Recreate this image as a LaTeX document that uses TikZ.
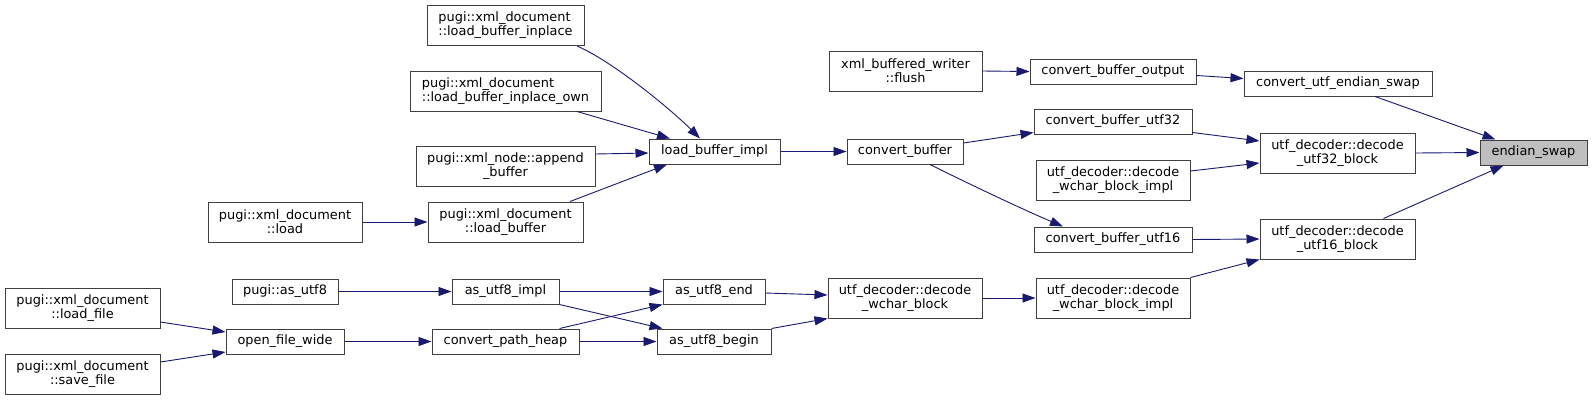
\documentclass[tikz,border=0pt]{standalone}
\usepackage{fontspec}
\setmainfont{DejaVu Sans}
\usetikzlibrary{arrows.meta,calc}
\definecolor{edgeblue}{HTML}{191970}
\definecolor{boxline}{HTML}{404040}
\definecolor{hlfill}{HTML}{BFBFBF}
\begin{document}
\begin{tikzpicture}[x=1pt,y=-1pt,
  box/.style={draw=boxline, fill=white, line width=1pt, inner sep=0pt, minimum height=25pt, align=center, font=\fontsize{12.9}{14}\selectfont},
  tall/.style={minimum height=40pt},
  call/.style={draw=edgeblue, line width=0.9pt, -{Triangle[length=13pt,width=9pt,fill=edgeblue]}}]
\useasboundingbox[fill=white] (0,0) rectangle (1592,400);
% nodes
\node[box,tall,minimum width=157,align=left] (inplace) at (505.5,25.5) {pugi::xml\_document\\::load\_buffer\_inplace};
\node[box,tall,minimum width=191,align=left] (inplaceown) at (505.5,91) {pugi::xml\_document\\::load\_buffer\_inplace\_own};
\node[box,tall,minimum width=179] (append) at (505.5,166) {pugi::xml\_node::append\\\_buffer};
\node[box,tall,minimum width=154] (load) at (285,222) {pugi::xml\_document\\::load};
\node[box,tall,minimum width=155] (loadbuf) at (505.5,222) {pugi::xml\_document\\::load\_buffer};
\node[box,minimum width=131] (lbimpl) at (714.5,151.5) {load\_buffer\_impl};
\node[box,minimum width=116] (cbuf) at (905,151.5) {convert\_buffer};
\node[box,tall,minimum width=153] (flush) at (905.5,71) {xml\_buffered\_writer\\::flush};
\node[box,minimum width=166] (cbo) at (1113,71.5) {convert\_buffer\_output};
\node[box,minimum width=158] (cb32) at (1113,121.5) {convert\_buffer\_utf32};
\node[box,tall,minimum width=154] (wbiu) at (1113,180) {utf\_decoder::decode\\\_wchar\_block\_impl};
\node[box,minimum width=158] (cb16) at (1113,239.5) {convert\_buffer\_utf16};
\node[box,tall,minimum width=154] (wbil) at (1113,298) {utf\_decoder::decode\\\_wchar\_block\_impl};
\node[box,minimum width=188] (cues) at (1338,83.5) {convert\_utf\_endian\_swap};
\node[box,tall,minimum width=155] (d32) at (1337.5,153) {utf\_decoder::decode\\\_utf32\_block};
\node[box,tall,minimum width=155] (d16) at (1337.5,239) {utf\_decoder::decode\\\_utf16\_block};
\node[box,fill=hlfill,minimum width=107] (es) at (1533.5,152.5) {endian\_swap};
\node[box,tall,minimum width=154] (wb) at (905,298) {utf\_decoder::decode\\\_wchar\_block};
\node[box,minimum width=102] (u8end) at (714,291.5) {as\_utf8\_end};
\node[box,minimum width=114] (u8begin) at (714,341.5) {as\_utf8\_begin};
\node[box,minimum width=107] (u8impl) at (505.5,291.5) {as\_utf8\_impl};
\node[box,minimum width=106] (asutf) at (285,291.5) {pugi::as\_utf8};
\node[box,minimum width=147] (cph) at (505.5,341.5) {convert\_path\_heap};
\node[box,minimum width=118] (ofw) at (285,341.5) {open\_file\_wide};
\node[box,tall,minimum width=155] (lfile) at (82.5,308.5) {pugi::xml\_document\\::load\_file};
\node[box,tall,minimum width=155] (sfile) at (82.5,374) {pugi::xml\_document\\::save\_file};
% connectors
\draw[call] ($(cues.south)+(37,0)$) -- ($(es.north)+(-38,0)$);
\draw[call] (d32.east) -- (es.west);
\draw[call] ($(d16.north)+(46,0)$) -- ($(es.south)+(-30,0)$);
\draw[call] ($(cbo.east)+(0,4)$) -- ($(cues.west)+(0,-5)$);
\draw[call] (flush.east) -- (cbo.west);
\draw[call] ($(cb32.east)+(0,11)$) -- ($(d32.west)+(0,-12)$);
\draw[call] ($(wbiu.east)+(0,-9)$) -- ($(d32.west)+(0,10)$);
\draw[call] (cb16.east) -- (d16.west);
\draw[call] (wbil.north east) -- (d16.south west);
\draw[call] ($(cbuf.east)+(0,-8.5)$) -- ($(cb32.west)+(0,11)$);
\draw[call] ($(cbuf.south)+(25,0)$) .. controls +(40,20) and +(-40,-17) .. ($(cb16.north)+(-50,0)$);
\draw[call] (lbimpl.east) -- (cbuf.west);
\draw[call] ($(inplace.south)+(71.5,0)$) .. controls +(35,15) and +(-30,-30) .. ($(lbimpl.north)+(-14.5,0)$);
\draw[call] ($(inplaceown.south)+(71.5,0)$) -- ($(lbimpl.north)+(-44.5,0)$);
\draw[call] ($(append.east)+(0,-12)$) -- ($(lbimpl.west)+(0,1.5)$);
\draw[call] ($(loadbuf.north)+(64.5,0)$) -- ($(lbimpl.south)+(-47.5,0)$);
\draw[call] (load.east) -- (loadbuf.west);
\draw[call] (wb.east) -- (wbil.west);
\draw[call] ($(u8end.east)+(0,1.5)$) -- ($(wb.west)+(0,-3)$);
\draw[call] (u8begin.north east) -- (wb.south west);
\draw[call] (u8impl.east) -- (u8end.west);
\draw[call] (u8impl.south east) -- ($(u8begin.north west)+(6,0)$);
\draw[call] ($(cph.north east)+(-20,0)$) -- (u8end.south west);
\draw[call] (cph.east) -- (u8begin.west);
\draw[call] (asutf.east) -- (u8impl.west);
\draw[call] (ofw.east) -- (cph.west);
\draw[call] ($(lfile.east)+(0,13.5)$) -- ($(ofw.west)+(0,-9.5)$);
\draw[call] ($(sfile.east)+(0,-12)$) -- ($(ofw.west)+(0,10.5)$);
\end{tikzpicture}
\end{document}
